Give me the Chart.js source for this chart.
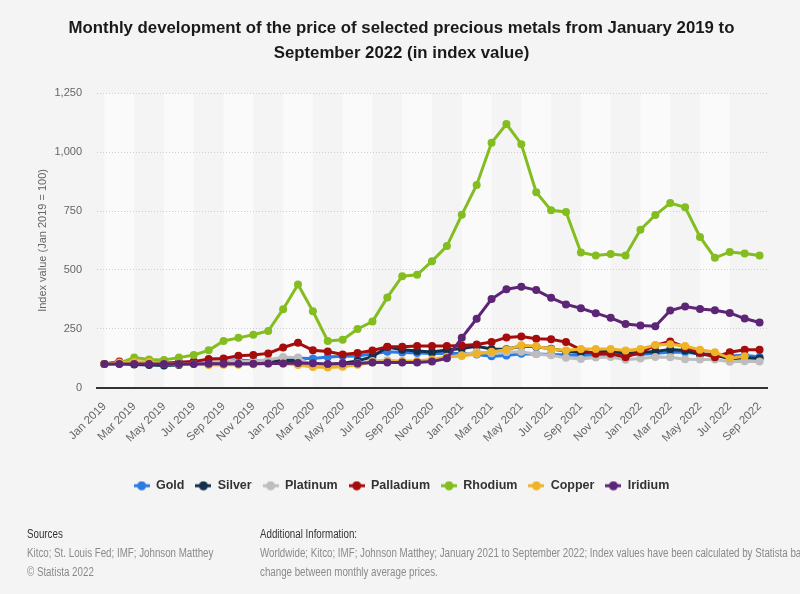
<!DOCTYPE html>
<html>
<head>
<meta charset="utf-8">
<script src="https://cdn.jsdelivr.net/npm/chart.js@4"></script>
<style>
  html, body { margin: 0; padding: 0; background: #f4f4f4; overflow: hidden; }
  #wrap { position: relative; width: 800px; height: 594px; }
  #chart { position: absolute; left: 0; top: 0; }
  .foot { position: absolute; top: 525px; font-family: 'Liberation Sans', Arial, sans-serif; font-size: 12.5px; line-height: 19px; white-space: nowrap; transform: scaleX(0.78); transform-origin: 0 0; }
  .foot b { font-weight: normal; color: #333; }
  .foot span { color: #8a8a8a; }
</style>
</head>
<body>
<div id="wrap">
  <canvas id="chart" width="800" height="594"></canvas>
  <div class="foot" style="left:27px">
    <b>Sources</b><br>
    <span>Kitco; St. Louis Fed; IMF; Johnson Matthey</span><br>
    <span>© Statista 2022</span>
  </div>
  <div class="foot" style="left:260px">
    <b>Additional Information:</b><br>
    <span>Worldwide; Kitco; IMF; Johnson Matthey; January 2021 to September 2022; Index values have been calculated by Statista based on the percentage</span><br>
    <span>change between monthly average prices.</span>
  </div>
</div>
<script>
const months = ['Jan', 'Feb', 'Mar', 'Apr', 'May', 'Jun', 'Jul', 'Aug', 'Sep', 'Oct', 'Nov', 'Dec'];
const labels = [];
for (let y = 2019; y <= 2022; y++) {
  months.forEach((m, i) => { if (y < 2022 || i < 9) labels.push(m + ' ' + y); });
}

const gold = [100, 102, 101, 100, 99, 105, 109, 116, 117, 116, 114, 115, 121, 124, 123, 130, 133, 134, 143, 152, 149, 147, 145, 144, 145, 140, 133, 136, 143, 142, 140, 138, 137, 138, 141, 139, 141, 144, 151, 150, 143, 142, 134, 137, 130];
const silver = [100, 102, 98, 96, 94, 96, 102, 110, 115, 113, 110, 109, 115, 115, 96, 97, 103, 113, 131, 172, 160, 155, 151, 159, 166, 175, 164, 163, 176, 173, 165, 154, 149, 150, 156, 145, 149, 153, 162, 157, 140, 138, 122, 126, 123];
const platinum = [100, 101, 106, 112, 104, 101, 106, 108, 118, 112, 113, 117, 130, 127, 92, 96, 101, 103, 113, 116, 112, 108, 116, 129, 137, 152, 146, 150, 152, 141, 137, 126, 121, 128, 130, 118, 123, 130, 129, 120, 119, 119, 109, 112, 111];
const palladium = [100, 110, 103, 103, 103, 107, 110, 121, 123, 135, 138, 145, 170, 190, 158, 153, 140, 147, 157, 173, 173, 176, 176, 176, 179, 183, 193, 213, 217, 207, 205, 193, 160, 143, 143, 129, 150, 179, 196, 171, 147, 129, 150, 160, 160];
const rhodium = [100, 103, 127, 119, 117, 127, 138, 158, 198, 211, 224, 240, 333, 438, 324, 198, 203, 249, 280, 383, 473, 479, 537, 601, 734, 861, 1040, 1120, 1034, 830, 753, 746, 574, 561, 567, 561, 671, 733, 784, 766, 640, 551, 576, 570, 561];
const copper = [100, 106, 108, 108, 101, 99, 100, 96, 97, 97, 99, 102, 102, 96, 87, 85, 88, 97, 107, 109, 113, 113, 119, 131, 134, 142, 152, 160, 180, 175, 163, 157, 164, 164, 164, 157, 164, 181, 184, 176, 160, 150, 124, 133, null];
const iridium = [100, 100, 100, 100, 100, 100, 100, 101, 101, 101, 101, 102, 102, 104, 103, 100, 102, 102, 106, 106, 106, 106, 110, 124, 211, 292, 376, 418, 428, 414, 381, 353, 337, 316, 296, 270, 264, 260, 327, 344, 334, 328, 317, 293, 276];

const seriesNames = ['Gold', 'Silver', 'Platinum', 'Palladium', 'Rhodium', 'Copper', 'Iridium'];
const seriesData = [gold, silver, platinum, palladium, rhodium, copper, iridium];
const seriesColors = ['#2a7be4', '#15304b', '#bdbdbd', '#a60c0c', '#84bd20', '#efb327', '#5d2576'];

Chart.defaults.font.family = "'Liberation Sans', Arial, sans-serif";

// little line + dot marker for the legend
function legendMarker(color) {
  const c = document.createElement('canvas');
  c.width = 16; c.height = 10;
  const g = c.getContext('2d');
  g.strokeStyle = color; g.fillStyle = color; g.lineWidth = 3;
  g.beginPath(); g.moveTo(0, 5); g.lineTo(16, 5); g.stroke();
  g.beginPath(); g.arc(8, 5, 4.5, 0, Math.PI * 2); g.fill();
  return c;
}

// alternating vertical bands behind the lines
const bands = {
  id: 'bands',
  beforeDraw(chart) {
    const { ctx, chartArea, scales } = chart;
    ctx.save();
    ctx.fillStyle = '#f4f4f4';
    ctx.fillRect(0, 0, chart.width, chart.height);
    ctx.fillStyle = '#fafafa';
    for (let i = 0; i < labels.length; i += 4) {
      const x0 = scales.x.getPixelForValue(i);
      const x1 = Math.min(scales.x.getPixelForValue(Math.min(i + 2, labels.length - 1)), chartArea.right);
      ctx.fillRect(x0, chartArea.top, x1 - x0, chartArea.bottom - chartArea.top);
    }
    ctx.restore();
  }
};

new Chart(document.getElementById('chart'), {
  type: 'line',
  data: {
    labels: labels,
    datasets: seriesNames.map((name, i) => ({
      label: name,
      data: seriesData[i],
      borderColor: seriesColors[i],
      backgroundColor: seriesColors[i],
      borderWidth: 3,
      pointRadius: 4,
      pointHoverRadius: 5,
      pointBorderWidth: 0,
      tension: 0,
      order: seriesNames.length - i
    }))
  },
  options: {
    responsive: false,
    animation: false,
    layout: { padding: { left: 36, right: 33, top: 0, bottom: 92 } },
    plugins: {
      title: {
        display: true,
        text: ['Monthly development of the price of selected precious metals from January 2019 to', 'September 2022 (in index value)'],
        color: '#1a1a1a',
        font: { size: 16.8, weight: 'bold', lineHeight: 1.5 },
        padding: { top: 16, bottom: 27 }
      },
      legend: {
        position: 'bottom',
        labels: {
          usePointStyle: true,
          pointStyleWidth: 16,
          boxHeight: 10,
          padding: 11,
          color: '#333',
          font: { size: 12.5, weight: 'bold' },
          generateLabels: (chart) => chart.data.datasets.map((ds, i) => ({
            text: ds.label,
            pointStyle: legendMarker(ds.borderColor),
            fillStyle: ds.borderColor,
            strokeStyle: ds.borderColor,
            lineWidth: 0,
            hidden: !chart.isDatasetVisible(i),
            datasetIndex: i,
            fontColor: '#333'
          }))
        }
      },
      tooltip: { enabled: true }
    },
    scales: {
      x: {
        offset: true,
        grid: { display: false },
        border: { display: true, color: '#333', width: 2 },
        ticks: {
          autoSkip: false,
          maxRotation: 45,
          minRotation: 45,
          color: '#666',
          font: { size: 11.5 },
          padding: 4,
          callback: function (v, i) { return i % 2 === 0 ? labels[i] : ''; }
        },
        afterFit(scale) { scale.height = 81; }
      },
      y: {
        min: 0,
        max: 1250,
        grid: { color: '#cfcfcf', drawTicks: false, lineWidth: 1 },
        border: { display: false, dash: [1, 2] },
        ticks: {
          stepSize: 250,
          color: '#666',
          font: { size: 11 },
          padding: 15,
          callback: (v) => v.toLocaleString('en-US')
        },
        title: {
          display: true,
          text: 'Index value (Jan 2019 = 100)',
          color: '#666',
          font: { size: 11 },
          padding: { top: 0, bottom: 0 }
        },
        afterFit(scale) { scale.width = 61; }
      }
    }
  },
  plugins: [bands]
});
</script>
</body>
</html>
